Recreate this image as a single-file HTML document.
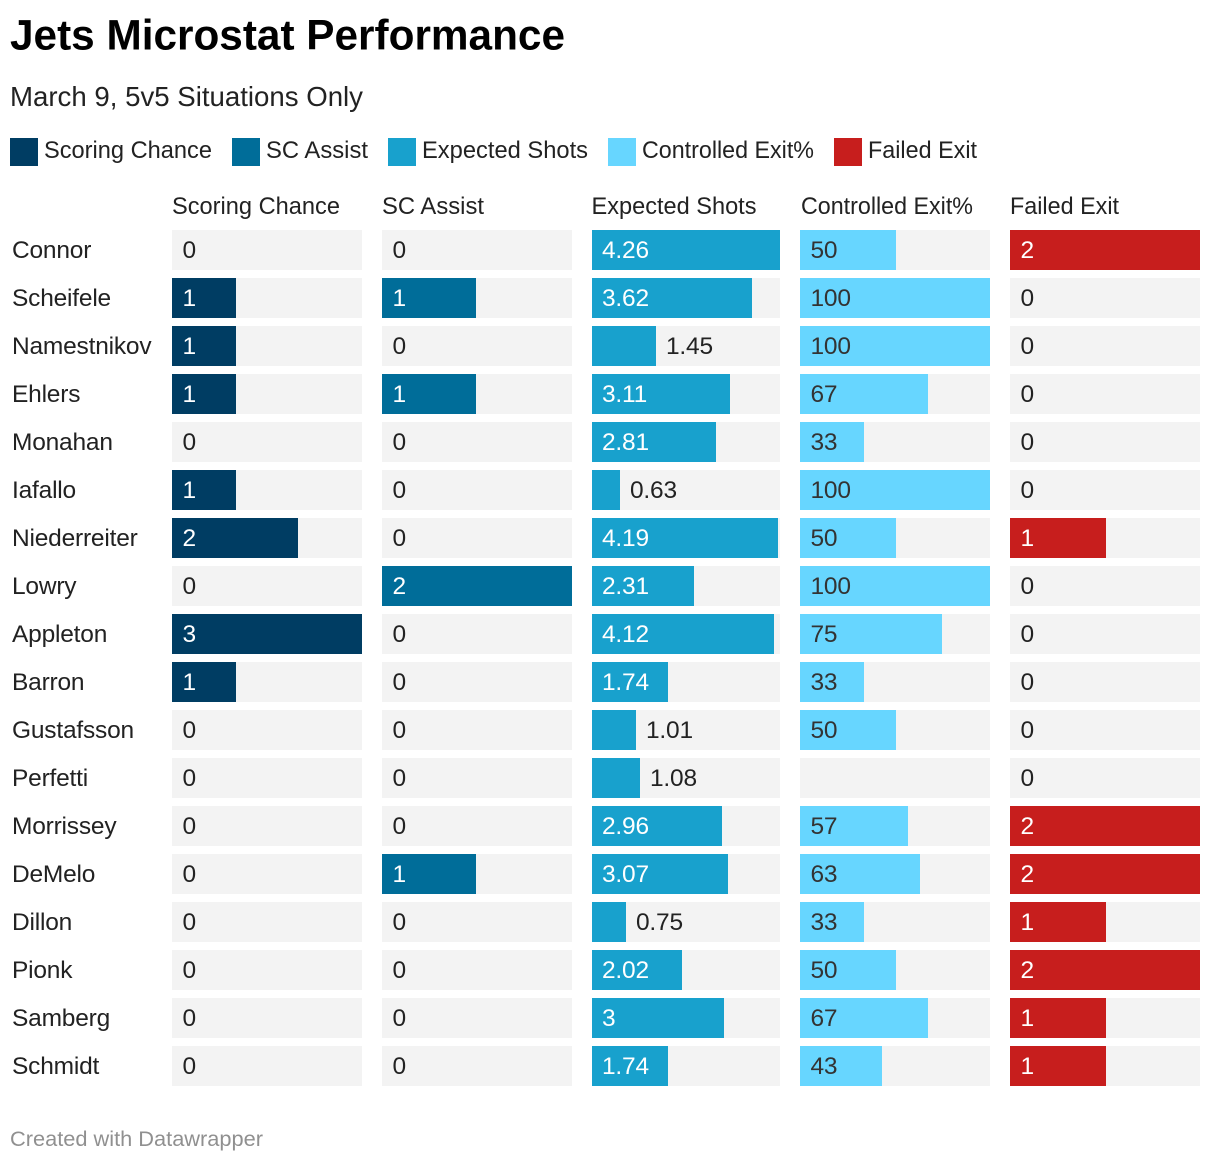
<!DOCTYPE html>
<html lang="en">
<head>
<meta charset="utf-8">
<title>Jets Microstat Performance</title>
<style>
html,body{margin:0;padding:0;background:#fff;width:1220px;height:1164px;overflow:hidden}
svg{display:block}
text{font-family:"Liberation Sans",sans-serif;fill:#222}
</style>
</head>
<body>
<svg id="chart" xmlns="http://www.w3.org/2000/svg" width="1220" height="1164" viewBox="0 0 1220 1164">
  <text x="10" y="49.5" font-size="43" font-weight="700" style="fill:#000" textLength="555" lengthAdjust="spacingAndGlyphs">Jets Microstat Performance</text>
  <text x="10" y="106" font-size="28" textLength="353" lengthAdjust="spacingAndGlyphs">March 9, 5v5 Situations Only</text>
  <g>
    <g><rect x="10" y="138" width="28" height="28" fill="#003d63"/><text x="44" y="158" font-size="24.5" textLength="168" lengthAdjust="spacingAndGlyphs">Scoring Chance</text></g>
    <g><rect x="232" y="138" width="28" height="28" fill="#006d99"/><text x="266" y="158" font-size="24.5" textLength="102" lengthAdjust="spacingAndGlyphs">SC Assist</text></g>
    <g><rect x="388" y="138" width="28" height="28" fill="#18a1cd"/><text x="422" y="158" font-size="24.5" textLength="166" lengthAdjust="spacingAndGlyphs">Expected Shots</text></g>
    <g><rect x="608" y="138" width="28" height="28" fill="#67d6ff"/><text x="642" y="158" font-size="24.5" textLength="172" lengthAdjust="spacingAndGlyphs">Controlled Exit%</text></g>
    <g><rect x="834" y="138" width="28" height="28" fill="#c71e1d"/><text x="868" y="158" font-size="24.5" textLength="109" lengthAdjust="spacingAndGlyphs">Failed Exit</text></g>
  </g>
  <g id="table"></g>
  <text x="10" y="1146" font-size="21.5" style="fill:#909090" textLength="253" lengthAdjust="spacingAndGlyphs">Created with Datawrapper</text>
</svg>
<script>
const players = ["Connor","Scheifele","Namestnikov","Ehlers","Monahan","Iafallo","Niederreiter","Lowry","Appleton","Barron","Gustafsson","Perfetti","Morrissey","DeMelo","Dillon","Pionk","Samberg","Schmidt"];
const columnNames = ["Scoring Chance","SC Assist","Expected Shots","Controlled Exit%","Failed Exit"];
const scoringChance = [0,1,1,1,0,1,2,0,3,1,0,0,0,0,0,0,0,0];
const scAssist = [0,1,0,1,0,0,0,2,0,0,0,0,0,1,0,0,0,0];
const expectedShots = [4.26,3.62,1.45,3.11,2.81,0.63,4.19,2.31,4.12,1.74,1.01,1.08,2.96,3.07,0.75,2.02,3,1.74];
const controlledExit = [50,100,100,67,33,100,50,100,75,33,50,null,57,63,33,50,67,43];
const failedExit = [2,0,0,0,0,0,1,0,0,0,0,0,2,2,1,2,1,1];

const seriesList = [scoringChance, scAssist, expectedShots, controlledExit, failedExit];
const colors = ["#003d63","#006d99","#18a1cd","#67d6ff","#c71e1d"];
const lightText = [true,true,true,false,true];
const colLeft = [172,382,592,800,1010];
const colWidth = [190,190,188,190,190];
const headerX = [172,382,591.5,801,1010];
const headerLength = [168,102,165,172,109];
const valueInset = [10.5,10.5,10,10.5,10.5];
const snapBias = [0,-0.01,0.06,0.2,0];
const rowTop = 230, rowStep = 48, rowHeight = 40;
const NS = "http://www.w3.org/2000/svg";
const root = document.getElementById("table");

function make(tag, attrs, txt){
  const el = document.createElementNS(NS, tag);
  for (const k in attrs) el.setAttribute(k, attrs[k]);
  if (txt !== undefined) el.textContent = txt;
  return el;
}
function yScale(i){ return rowTop + i * rowStep; }
function xScale(v, c){
  const max = Math.max.apply(null, seriesList[c].filter(function(d){ return d !== null; }));
  const w = v / max * colWidth[c];
  // the reference snaps bar ends to a 2px grid
  return Math.min(colWidth[c], Math.round(w / 2 + snapBias[c]) * 2);
}
function kebab(s){ return s.toLowerCase().replace(/[^a-z0-9]+/g, "-").replace(/-$/, ""); }

columnNames.forEach(function(name, c){
  const head = make("text", {x: headerX[c], y: 214, "font-size": 24.5, textLength: headerLength[c], lengthAdjust: "spacingAndGlyphs"}, name);
  
  
  root.appendChild(head);
});

players.forEach(function(player, i){
  const y = yScale(i);
  const row = make("g", {});
  
  
  root.appendChild(row);

  const label = make("text", {x: 12, y: y + 28, "font-size": 24.5, "letter-spacing": "-0.2"}, player);
  
  
  row.appendChild(label);

  seriesList.forEach(function(series, c){
    const v = series[i];
    const track = make("rect", {x: colLeft[c], y: y, width: colWidth[c], height: rowHeight, fill: "#f3f3f3"});
    
    
    row.appendChild(track);
    if (v === null) return;

    const w = v === 0 ? 0 : xScale(v, c);
    if (w > 0) {
      const bar = make("rect", {x: colLeft[c], y: y, width: w, height: rowHeight, fill: colors[c]});
      
      
      row.appendChild(bar);
    }
    const str = String(v);
    const needed = str.length * 12 + 20;
    const inside = w >= needed;
    const tx = inside || w === 0 ? colLeft[c] + valueInset[c] : colLeft[c] + w + 10;
    const fill = inside ? (lightText[c] ? "#ffffff" : "#333333") : "#222222";
    const val = make("text", {x: tx, y: y + 28, "font-size": 24.5, "letter-spacing": "-0.2", style: "fill:" + fill}, str);
    
    
    row.appendChild(val);
  });
});
</script>
</body>
</html>
